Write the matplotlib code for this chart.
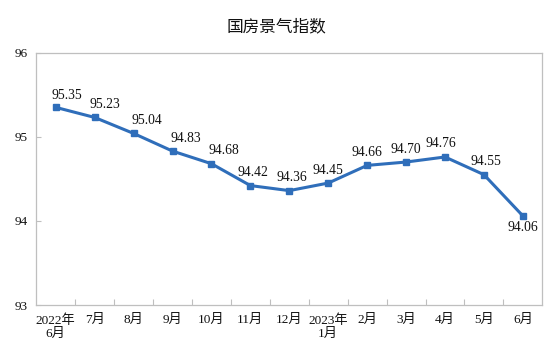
import matplotlib
matplotlib.use("Agg")
import matplotlib.pyplot as plt
import numpy as np

categories = ["2022年\n6月", "7月", "8月", "9月", "10月", "11月", "12月",
              "2023年\n1月", "2月", "3月", "4月", "5月", "6月"]
values = [95.35, 95.23, 95.04, 94.83, 94.68, 94.42, 94.36,
          94.45, 94.66, 94.70, 94.76, 94.55, 94.06]
y_ticks = [93, 94, 95, 96]
title = "国房景气指数"

# label placement (layout only): pixel offsets of value labels
label_dx = [11, 10, 13, 13, 12, 3, 3, 0, 0, 0, -4, 2, 0]
label_dy = [12, 13, 13, 13, 13, 13, 13, 13, 13, 13, 13, 13, -12]

serif = ["Liberation Serif", "Noto Sans CJK SC"]
line_color = "#2F6EBA"
spine_color = "#BFBFBF"

fig = plt.figure(figsize=(5.56, 3.6), dpi=100)
ax = fig.add_axes([36.3/556, 1-305/360, (542.3-36.3)/556, (305-52.7)/360])

x = np.arange(len(values))
ax.plot(x, values, color=line_color, lw=2.2, marker="s", ms=4.2,
        markerfacecolor=line_color, markeredgecolor=line_color, zorder=3)

for xi, v, dx, dy in zip(x, values, label_dx, label_dy):
    ax.annotate(f"{v:.2f}", (xi, v), xytext=(dx*0.72, dy*0.72),
                textcoords="offset points", ha="center", va="center",
                fontsize=9.8, family=serif, color="#111111")

ax.set_xlim(-0.5, len(values)-0.5)
ax.set_ylim(93, 96)
ax.set_yticks(y_ticks)
ax.set_yticklabels([str(t) for t in y_ticks], family=serif, fontsize=9.5)
ax.set_xticks(x)
ax.set_xticklabels(categories, family=serif, fontsize=9.5, linespacing=1.1)
ax.set_xticks(np.arange(-0.5, len(values)+0.5, 1)[1:-1], minor=True)

ax.tick_params(axis="x", which="major", length=0, pad=6.5, colors="#111111")
ax.tick_params(axis="x", which="minor", direction="in", length=4.5,
               color=spine_color, width=0.8)
ax.tick_params(axis="y", which="major", direction="in", length=3.5,
               color=spine_color, width=0.8, pad=6.5, labelcolor="#111111")

for s in ax.spines.values():
    s.set_color(spine_color)
    s.set_linewidth(0.9)

fig.text(0.497, 1-26.7/360, title, ha="center", va="center",
         fontsize=12, fontweight="medium",
         family=["Noto Sans CJK SC", "DejaVu Sans"], color="#111111")

fig.savefig("out.png", dpi=100)
